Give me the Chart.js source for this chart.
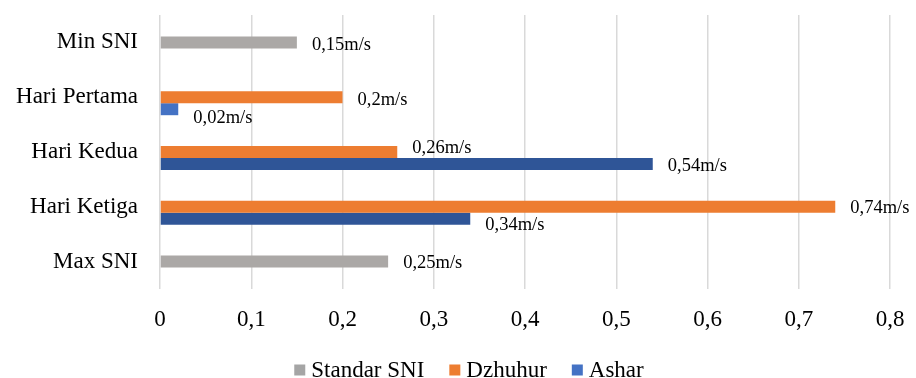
<!DOCTYPE html>
<html>
<head>
<meta charset="utf-8">
<script src="https://cdn.jsdelivr.net/npm/chart.js@4/dist/chart.umd.min.js"></script>
<style>
    html, body { margin: 0; padding: 0; background: #fff; }
    #wrap { width: 916px; height: 378px; }
</style>
</head>
<body>
<div id="wrap"><canvas id="speedChart"></canvas></div>
<script>
const categories = ["Min SNI", "Hari Pertama", "Hari Kedua", "Hari Ketiga", "Max SNI"];
const standarSni = [0.15, null, null, null, 0.25];
const dzhuhur = [null, 0.2, 0.26, 0.74, null];
const ashar = [null, 0.02, 0.54, 0.34, null];
const xTicks = [0, 0.1, 0.2, 0.3, 0.4, 0.5, 0.6, 0.7, 0.8];

const serif = "Liberation Serif";
Chart.defaults.font.family = serif;
Chart.defaults.color = "#000";

function comma(v) {
    return String(Math.round(v * 100) / 100).replace(".", ",");
}

// small vertical nudges for the value labels, like Excel moved them apart
const labelNudge = {
    1: [3, 0, 0, 0, 2],
    2: [0, 3, -4, 1, 0],
    3: [0, 9, 2, 6, 0]
};

const valueLabels = {
    id: "valueLabels",
    afterDatasetsDraw(chart) {
        const ctx = chart.ctx;
        ctx.save();
        ctx.font = "18.5px " + serif;
        ctx.fillStyle = "#000";
        ctx.textAlign = "left";
        ctx.textBaseline = "middle";
        chart.data.datasets.forEach((ds, di) => {
            if (!ds.label) return;
            const meta = chart.getDatasetMeta(di);
            meta.data.forEach((bar, i) => {
                const v = ds.data[i];
                if (v === null || v === undefined) return;
                const dy = (labelNudge[di] || [])[i] || 0;
                ctx.fillText(comma(v) + "m/s", bar.x + 15, bar.y + dy);
            });
        });
        ctx.restore();
    }
};

// legend drawn by hand so the box/text gaps follow the Excel one
const bottomLegend = {
    id: "bottomLegend",
    afterDraw(chart) {
        const ctx = chart.ctx;
        const items = chart.data.datasets.filter(ds => ds.label);
        const box = 11, gap = 6, spacing = 25;
        ctx.save();
        ctx.font = "23px " + serif;
        ctx.textBaseline = "middle";
        ctx.textAlign = "left";
        const widths = items.map(ds => box + gap + ctx.measureText(ds.label).width);
        const total = widths.reduce((a, b) => a + b, 0) + spacing * (items.length - 1);
        let x = 469 - total / 2;
        const y = 370;
        items.forEach((ds, i) => {
            ctx.fillStyle = ds.legendColor || ds.backgroundColor;
            ctx.fillRect(x, y - box / 2, box, box);
            ctx.fillStyle = "#000";
            ctx.fillText(ds.label, x + box + gap, y + 1);
            x += widths[i] + spacing;
        });
        ctx.restore();
    }
};

new Chart(document.getElementById("speedChart"), {
    type: "bar",
    data: {
        labels: categories,
        datasets: [
            { label: "", data: categories.map(() => null), stack: "top", backgroundColor: "rgba(0,0,0,0)" },
            { label: "Standar SNI", data: standarSni, stack: "mid", backgroundColor: "#aba8a6", legendColor: "#a5a5a5" },
            { label: "Dzhuhur", data: dzhuhur, stack: "mid", backgroundColor: "#ed7d31" },
            {
                label: "Ashar", data: ashar, stack: "bot", legendColor: "#4472c4",
                backgroundColor: c => (c.type === "data" && c.dataIndex !== 1) ? "#2f5597" : "#4472c4"
            }
        ]
    },
    options: {
        indexAxis: "y",
        responsive: true,
        maintainAspectRatio: false,
        animation: false,
        layout: { padding: { top: 15, right: 26, bottom: 0, left: 0 } },
        datasets: {
            bar: { barPercentage: 1, categoryPercentage: 0.657, borderWidth: 0 }
        },
        scales: {
            x: {
                stacked: false,
                min: 0,
                max: 0.8,
                afterBuildTicks: scale => { scale.ticks = xTicks.map(v => ({ value: v })); },
                afterFit: scale => {
                    scale.height = 89;
                    scale.paddingLeft = 0;
                    scale.paddingRight = 0;
                },
                ticks: {
                    padding: 17,
                    color: "#000",
                    font: { family: serif, size: 23 },
                    callback: v => comma(v)
                },
                grid: { color: "#d9d9d9", lineWidth: 1.5, drawTicks: false },
                border: { display: false }
            },
            y: {
                stacked: true,
                afterFit: scale => {
                    scale.width = 160;
                    scale.paddingTop = 0;
                    scale.paddingBottom = 0;
                },
                ticks: {
                    padding: 22,
                    color: "#000",
                    font: { family: serif, size: 23 }
                },
                grid: { display: false, drawTicks: false },
                border: { display: false }
            }
        },
        plugins: {
            legend: { display: false },
            tooltip: { enabled: false }
        }
    },
    plugins: [valueLabels, bottomLegend]
});
</script>
</body>
</html>
